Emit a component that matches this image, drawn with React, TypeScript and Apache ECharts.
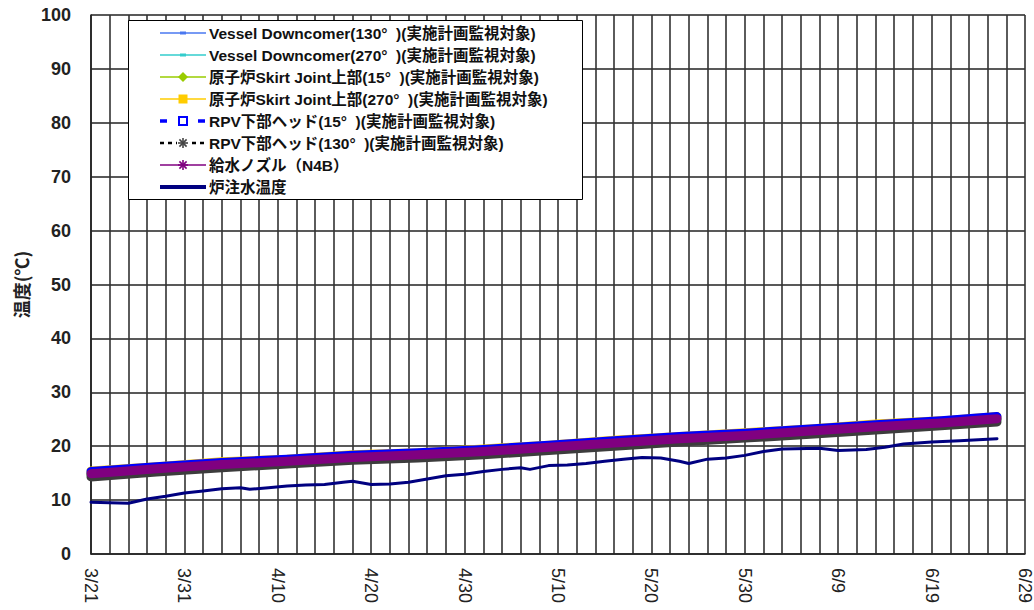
import React, { useEffect, useRef } from "react";
import * as echarts from "echarts";

// ---------- data ----------
const seriesNames = [
  "Vessel Downcomer(130°  )(実施計画監視対象)",
  "Vessel Downcomer(270°  )(実施計画監視対象)",
  "原子炉Skirt Joint上部(15°  )(実施計画監視対象)",
  "原子炉Skirt Joint上部(270°  )(実施計画監視対象)",
  "RPV下部ヘッド(15°  )(実施計画監視対象)",
  "RPV下部ヘッド(130°  )(実施計画監視対象)",
  "給水ノズル（N4B）",
  "炉注水温度",
];

const xTickLabels = ["3/21", "3/31", "4/10", "4/20", "4/30", "5/10", "5/20", "5/30", "6/9", "6/19", "6/29"];
const yTickValues = [0, 10, 20, 30, 40, 50, 60, 70, 80, 90, 100];

const bandDates = ["3/21", "3/28", "4/4", "4/11", "4/18", "4/25", "5/2", "5/9", "5/16", "5/23", "5/30", "6/6", "6/13", "6/20", "6/26"];
const vesselDc130 = [14.9, 15.9, 16.6, 17.3, 17.9, 18.5, 19.1, 19.8, 20.6, 21.4, 22.1, 22.8, 23.6, 24.4, 25.1];
const vesselDc270 = [14.7, 15.6, 16.4, 17.1, 17.7, 18.2, 18.8, 19.6, 20.4, 21.2, 21.9, 22.6, 23.4, 24.2, 24.9];
const skirt15 = [14.8, 15.7, 16.5, 17.1, 17.8, 18.3, 18.9, 19.7, 20.5, 21.3, 21.9, 22.7, 23.5, 24.2, 25.0];
const skirt270 = [15.4, 16.2, 17.1, 17.6, 18.4, 18.8, 19.5, 20.2, 21.1, 21.8, 22.5, 23.2, 24.1, 24.7, 25.5];
const rpv15 = [15.3, 16.2, 17.0, 17.6, 18.3, 18.8, 19.4, 20.2, 21.0, 21.8, 22.4, 23.2, 24.0, 24.7, 25.5];
const rpv130 = [14.3, 15.2, 16.0, 16.7, 17.4, 17.8, 18.4, 19.2, 20.0, 20.8, 21.5, 22.2, 23.0, 23.8, 24.5];
const nozzleN4B = [14.9, 15.8, 16.6, 17.2, 17.9, 18.4, 19.0, 19.8, 20.6, 21.4, 22.0, 22.8, 23.6, 24.3, 25.1];

const injDates = [
  "3/21", "3/23", "3/25", "3/27", "3/29", "3/31", "4/2", "4/4", "4/6", "4/7", "4/9", "4/11", "4/13", "4/15",
  "4/17", "4/18", "4/20", "4/22", "4/24", "4/26", "4/28", "4/30", "5/2", "5/4", "5/6", "5/7", "5/9", "5/11",
  "5/13", "5/15", "5/17", "5/19", "5/21", "5/23", "5/24", "5/26", "5/28", "5/30", "6/1", "6/3", "6/7", "6/9",
  "6/12", "6/14", "6/16", "6/19", "6/22", "6/24", "6/26",
];
const injTemp = [
  9.6, 9.5, 9.4, 10.2, 10.7, 11.3, 11.7, 12.1, 12.3, 12.0, 12.3, 12.6, 12.8, 12.9,
  13.3, 13.5, 12.9, 13.0, 13.3, 13.9, 14.5, 14.8, 15.3, 15.7, 16.0, 15.7, 16.4, 16.5,
  16.8, 17.2, 17.6, 17.9, 17.8, 17.2, 16.8, 17.6, 17.8, 18.3, 19.0, 19.5, 19.6, 19.2,
  19.4, 19.8, 20.4, 20.8, 21.0, 21.2, 21.4,
];

// ---------- helpers ----------
const BASE = Date.UTC(2012, 2, 21);
const toDay = (s: string) => {
  const [m, d] = s.split("/").map(Number);
  return Math.round((Date.UTC(2012, m - 1, d) - BASE) / 86400000);
};
const pairs = (dates: string[], vals: number[]) => dates.map((d, i) => [toDay(d), vals[i]]);

const LEG_FONT = "'Liberation Sans', 'Noto Sans CJK JP', sans-serif";

function buildLegend() {
  const z = 100;
  const els: any[] = [];
  const x0 = 160, x1 = 206, cx = 183, tx = 209;
  const rowY = (i: number) => 33 + 22 * i;
  els.push({
    type: "rect", z, silent: true,
    shape: { x: 128.5, y: 20.5, width: 454, height: 179 },
    style: { fill: "#fff", stroke: "#000", lineWidth: 1 },
  });
  const line = (i: number, color: string, width: number, dash?: number[]) => ({
    type: "line", z: z + 1, silent: true,
    shape: { x1: x0, y1: rowY(i), x2: x1, y2: rowY(i) },
    style: { stroke: color, lineWidth: width, lineDash: dash || null },
  });
  const aster = (i: number, color: string, r: number) => {
    const y = rowY(i);
    const d = r * 0.72;
    return [
      [0, -r, 0, r], [-r, 0, r, 0], [-d, -d, d, d], [-d, d, d, -d],
    ].map((p) => ({
      type: "line", z: z + 2, silent: true,
      shape: { x1: cx + p[0], y1: y + p[1], x2: cx + p[2], y2: y + p[3] },
      style: { stroke: color, lineWidth: 1.6 },
    }));
  };
  // 1 Vessel Downcomer 130
  els.push(line(0, "#4a78f0", 1.5));
  els.push({ type: "rect", z: z + 2, silent: true, shape: { x: cx - 3, y: rowY(0) - 1.5, width: 6, height: 3 }, style: { fill: "#4a78f0" } });
  // 2 Vessel Downcomer 270
  els.push(line(1, "#33cccc", 1.5));
  els.push({ type: "rect", z: z + 2, silent: true, shape: { x: cx - 3, y: rowY(1) - 1.5, width: 6, height: 3 }, style: { fill: "#33cccc" } });
  // 3 Skirt 15
  els.push(line(2, "#99cc00", 1.5));
  els.push({
    type: "polygon", z: z + 2, silent: true,
    shape: { points: [[cx, rowY(2) - 5], [cx + 5, rowY(2)], [cx, rowY(2) + 5], [cx - 5, rowY(2)]] },
    style: { fill: "#99cc00" },
  });
  // 4 Skirt 270
  els.push(line(3, "#ffcc00", 1.5));
  els.push({ type: "rect", z: z + 2, silent: true, shape: { x: cx - 4.5, y: rowY(3) - 4.5, width: 9, height: 9 }, style: { fill: "#ffcc00" } });
  // 5 RPV 15
  els.push(line(4, "#0000ff", 3.5, [7, 12]));
  els.push({ type: "rect", z: z + 2, silent: true, shape: { x: cx - 4, y: rowY(4) - 4, width: 8, height: 8 }, style: { fill: "#fff", stroke: "#0000ff", lineWidth: 2 } });
  // 6 RPV 130
  els.push(line(5, "#000", 2.5, [4, 4]));
  els.push({ type: "rect", z: z + 1.5, silent: true, shape: { x: cx - 6, y: rowY(5) - 6, width: 12, height: 12 }, style: { fill: "#fff" } });
  aster(5, "#444", 5).forEach((e) => els.push(e));
  // 7 N4B
  els.push(line(6, "#800080", 1.5));
  aster(6, "#800080", 5).forEach((e) => els.push(e));
  // 8 injection
  els.push(line(7, "#000080", 4));

  seriesNames.forEach((name, i) => {
    els.push({
      type: "text", z: z + 3, silent: true,
      x: tx, y: rowY(i),
      style: {
        text: name, fill: "#111", font: `bold 15.5px ${LEG_FONT}`,
        textVerticalAlign: "middle", verticalAlign: "middle", align: "left",
      },
    });
  });
  return els;
}

export default function App() {
  const ref = useRef<HTMLDivElement>(null);

  useEffect(() => {
    document.body.style.margin = "0";
    if (!ref.current) return;
    const chart = echarts.init(ref.current, null, { renderer: "svg" });

    const mk = (name: string, dates: string[], vals: number[], color: string, width: number, z: number) => ({
      type: "line",
      name,
      data: pairs(dates, vals),
      symbol: "none",
      showSymbol: false,
      silent: true,
      z,
      lineStyle: { color, width, cap: "round", join: "round" },
      itemStyle: { color },
    });

    const option: any = {
      animation: false,
      backgroundColor: "#fff",
      grid: { left: 91, right: 7, top: 15, bottom: 56, containLabel: false },
      xAxis: {
        type: "value",
        min: 0,
        max: 100,
        interval: 2,
        axisLine: { show: true, lineStyle: { color: "#222", width: 1.6 } },
        axisTick: { show: false },
        splitLine: { show: true, lineStyle: { color: "#333", width: 1.6 } },
        axisLabel: {
          rotate: -90,
          margin: 14,
          fontSize: 18,
          color: "#222",
          fontFamily: "'Liberation Sans', Arial, sans-serif",
          showMinLabel: true,
          showMaxLabel: true,
          formatter: (v: number) => {
            const r = Math.round(v);
            return r % 10 === 0 ? xTickLabels[r / 10] || "" : "";
          },
        },
      },
      yAxis: {
        type: "value",
        min: yTickValues[0],
        max: yTickValues[yTickValues.length - 1],
        interval: 10,
        name: "温度(℃)",
        nameLocation: "middle",
        nameGap: 57,
        nameTextStyle: {
          fontSize: 18,
          fontWeight: "bold",
          color: "#222",
          fontFamily: "'Noto Sans CJK JP', sans-serif",
        },
        axisLine: { show: true, lineStyle: { color: "#222", width: 1.6 } },
        axisTick: { show: false },
        splitLine: { show: true, lineStyle: { color: "#222", width: 1.6 } },
        axisLabel: {
          margin: 20,
          fontSize: 18,
          fontWeight: "bold",
          color: "#222",
          fontFamily: "'Liberation Sans', Arial, sans-serif",
        },
      },
      series: [
        mk(seriesNames[0], bandDates, vesselDc130, "#4a78f0", 9, 2),
        mk(seriesNames[1], bandDates, vesselDc270, "#33cccc", 9, 2),
        mk(seriesNames[2], bandDates, skirt15, "#99cc00", 9, 2),
        mk(seriesNames[3], bandDates, skirt270, "#ffcc00", 9, 3),
        mk(seriesNames[5], bandDates, rpv130, "#3c3c3c", 9, 3),
        mk(seriesNames[4], bandDates, rpv15, "#0000ff", 9, 4),
        mk(seriesNames[6], bandDates, nozzleN4B, "#800080", 9, 5),
        mk(seriesNames[7], injDates, injTemp, "#000080", 3, 5),
      ],
      graphic: buildLegend(),
    };

    chart.setOption(option);
    return () => chart.dispose();
  }, []);

  return <div ref={ref} style={{ width: 1034, height: 610, background: "#fff" }} />;
}
